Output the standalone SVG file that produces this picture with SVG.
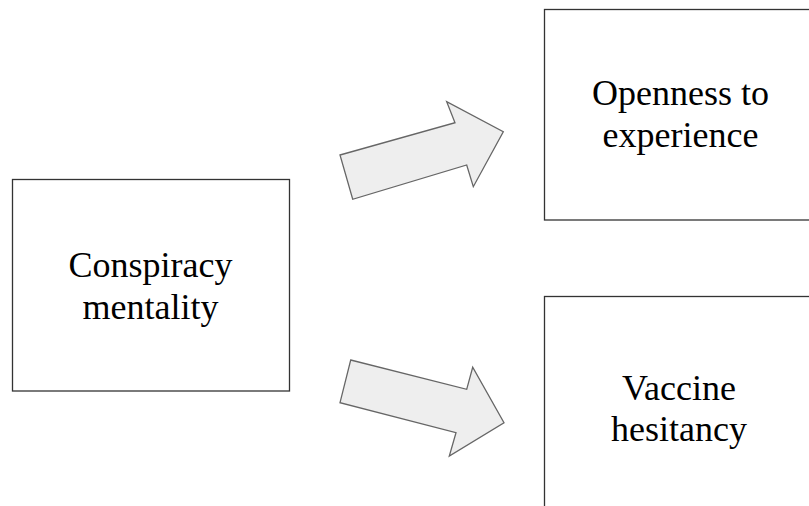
<svg xmlns="http://www.w3.org/2000/svg" width="809" height="506" viewBox="0 0 809 506">
<style>
.box{fill:#ffffff;stroke:#333333;stroke-width:1.3}
.arrow{fill:#eeeeee;stroke:#666666;stroke-width:1.3;stroke-linejoin:miter}
.lbl{font-family:"Liberation Serif","Times New Roman",serif;font-size:36px;fill:#000000;text-anchor:middle}
</style>
<rect width="809" height="506" fill="#ffffff"/>
<g id="connectors">
<polygon class="arrow" points="340,155 455,122.7 446.7,101.7 503.3,131.7 473.3,186.7 466.7,165 352.7,199.3"/>
<polygon class="arrow" points="350.7,360 466.7,389.3 472.7,367.3 504,422.7 449.3,456 456,432.7 340,402.7"/>
</g>
<g id="conspiracy">
<rect class="box" x="12.5" y="179.5" width="277" height="211.5"/>
<text class="lbl" x="150.5" y="277">Conspiracy</text>
<text class="lbl" x="150.5" y="319">mentality</text>
</g>
<g id="openness">
<rect class="box" x="544.5" y="9.5" width="280" height="210.5"/>
<text class="lbl" x="680.5" y="105">Openness to</text>
<text class="lbl" x="680.5" y="147">experience</text>
</g>
<g id="vaccine">
<rect class="box" x="544.5" y="296.5" width="280" height="230"/>
<text class="lbl" x="679" y="400">Vaccine</text>
<text class="lbl" x="679" y="441">hesitancy</text>
</g>
</svg>
